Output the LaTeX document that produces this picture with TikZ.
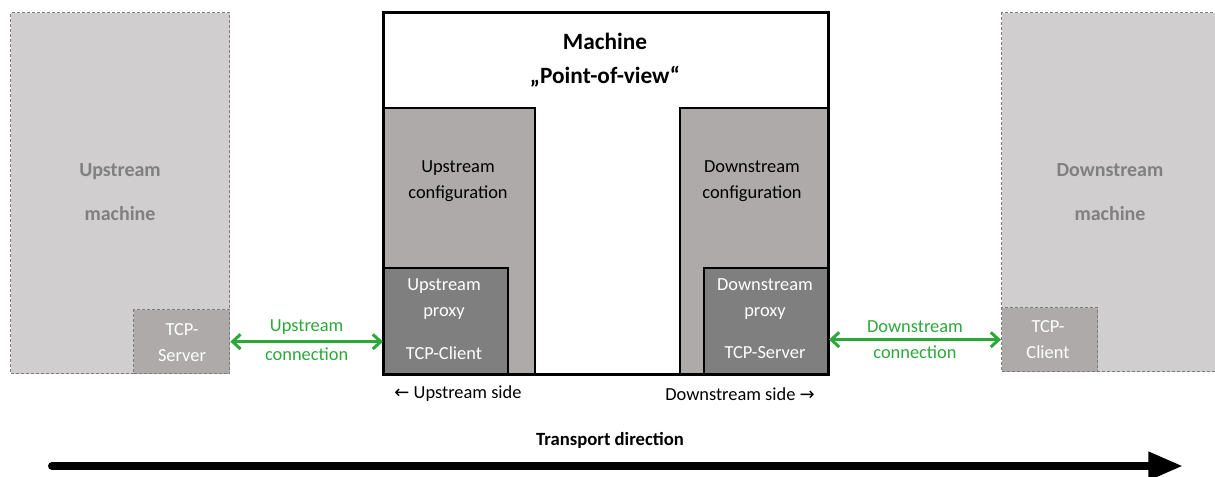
\documentclass[tikz,border=0pt]{standalone}
\usepackage{fontspec}
\setmainfont{Carlito}
\newfontfamily\arrowfont{DejaVu Sans}
\usetikzlibrary{arrows.meta}
\definecolor{lightbox}{RGB}{208,206,206}
\definecolor{midbox}{RGB}{174,170,170}
\definecolor{darkbox}{RGB}{127,127,127}
\definecolor{conngreen}{RGB}{44,168,58}
\definecolor{ghosttext}{RGB}{128,128,128}
\definecolor{ghostline}{RGB}{125,125,125}

\begin{document}
\begin{tikzpicture}[x=0.75pt,y=-0.75pt,
	ghost/.style={draw=ghostline,dash pattern=on 2.25pt off 1.5pt,line width=1pt,inner sep=0pt,anchor=north west},
	box/.style={draw=black,line width=1.5pt,inner sep=0pt,anchor=north west},
	txt/.style={font=\fontsize{13.8}{19.5}\selectfont,align=center},
	conn/.style={draw=conngreen,line width=2.25pt,{Straight Barb[length=6pt,width=11pt]}-{Straight Barb[length=6pt,width=11pt]}},
	transport/.style={line width=6pt,line cap=round,-{Triangle[length=26pt,width=20pt]}}]
\useasboundingbox (0,0) rectangle (1215,477);

\node[ghost,fill=lightbox,minimum width=164.25pt,minimum height=270.75pt] (upm) at (10,12) {};
\node[ghost,fill=midbox,minimum width=72pt,minimum height=48pt] (tcpsrvghost) at (133,309) {};
\node[txt,font=\bfseries\fontsize{15}{33}\selectfont,text=ghosttext] (upmtext) at (120,192) {Upstream\\machine};
\node[txt,text=white] (tcpsrvghosttext) at (182,342.5) {TCP-\\Server};

\node[ghost,fill=lightbox,minimum width=162pt,minimum height=269.25pt] (dnm) at (1001,12) {};
\node[ghost,fill=midbox,minimum width=72pt,minimum height=48pt] (tcpclghost) at (1001,307) {};
\node[txt,font=\bfseries\fontsize{15}{33}\selectfont,text=ghosttext] (dnmtext) at (1110,192) {Downstream\\machine};
\node[txt,text=white] (tcpclghosttext) at (1048,339.5) {TCP-\\Client};

\node[box,fill=white,minimum width=333pt,minimum height=270.75pt] (mach) at (383,12) {};
\node[box,fill=midbox,minimum width=113.25pt,minimum height=199.5pt] (upcfg) at (383,107) {};
\node[box,fill=darkbox,minimum width=93pt,minimum height=79.5pt] (upprx) at (383,267) {};
\node[box,fill=midbox,minimum width=111pt,minimum height=199.5pt] (dncfg) at (679,107) {};
\node[box,fill=darkbox,minimum width=93pt,minimum height=79.5pt] (dnprx) at (703,267) {};
\draw[line width=1.5pt] (mach.north west) rectangle (mach.south east);

\node[txt,font=\bfseries\fontsize{17.5}{25.5}\selectfont] (machtitle) at (605,60) {Machine\\„Point-of-view“};
\node[txt] (upcfgtext) at (458,181) {Upstream\\configuration};
\node[txt,text=white] (upprxtext) at (444,299.5) {Upstream\\proxy};
\node[txt,text=white] (tcpcl) at (444,353) {TCP-Client};
\node[txt] (dncfgtext) at (752,181) {Downstream\\configuration};
\node[txt,text=white] (dnprxtext) at (765,299.5) {Downstream\\proxy};
\node[txt,text=white] (tcpsrv) at (765,353) {TCP-Server};

\node[txt] (upside) at (458,394) {{\arrowfont\fontsize{13.5}{15}\selectfont ←} Upstream side};
\node[txt] (dnside) at (740,394) {Downstream side {\arrowfont\fontsize{13.5}{15}\selectfont →}};

\draw[conn] (tcpsrvghost.east) -- (tcpsrvghost.east -| mach.west)
	node[midway,above=1pt,txt,text=conngreen] {Upstream}
	node[midway,below=0pt,txt,text=conngreen] {connection};
\draw[conn] (mach.east |- tcpclghost.west) -- (tcpclghost.west)
	node[midway,above=1pt,txt,text=conngreen] {Downstream}
	node[midway,below=0pt,txt,text=conngreen] {connection};

\coordinate (tstart) at (52,466);
\coordinate (tend) at (1183,466);
\draw[transport] (tstart) -- (tend);
\node[txt,font=\bfseries\fontsize{14}{16}\selectfont] (transptext) at (610,440) {Transport direction};
\end{tikzpicture}
\end{document}
